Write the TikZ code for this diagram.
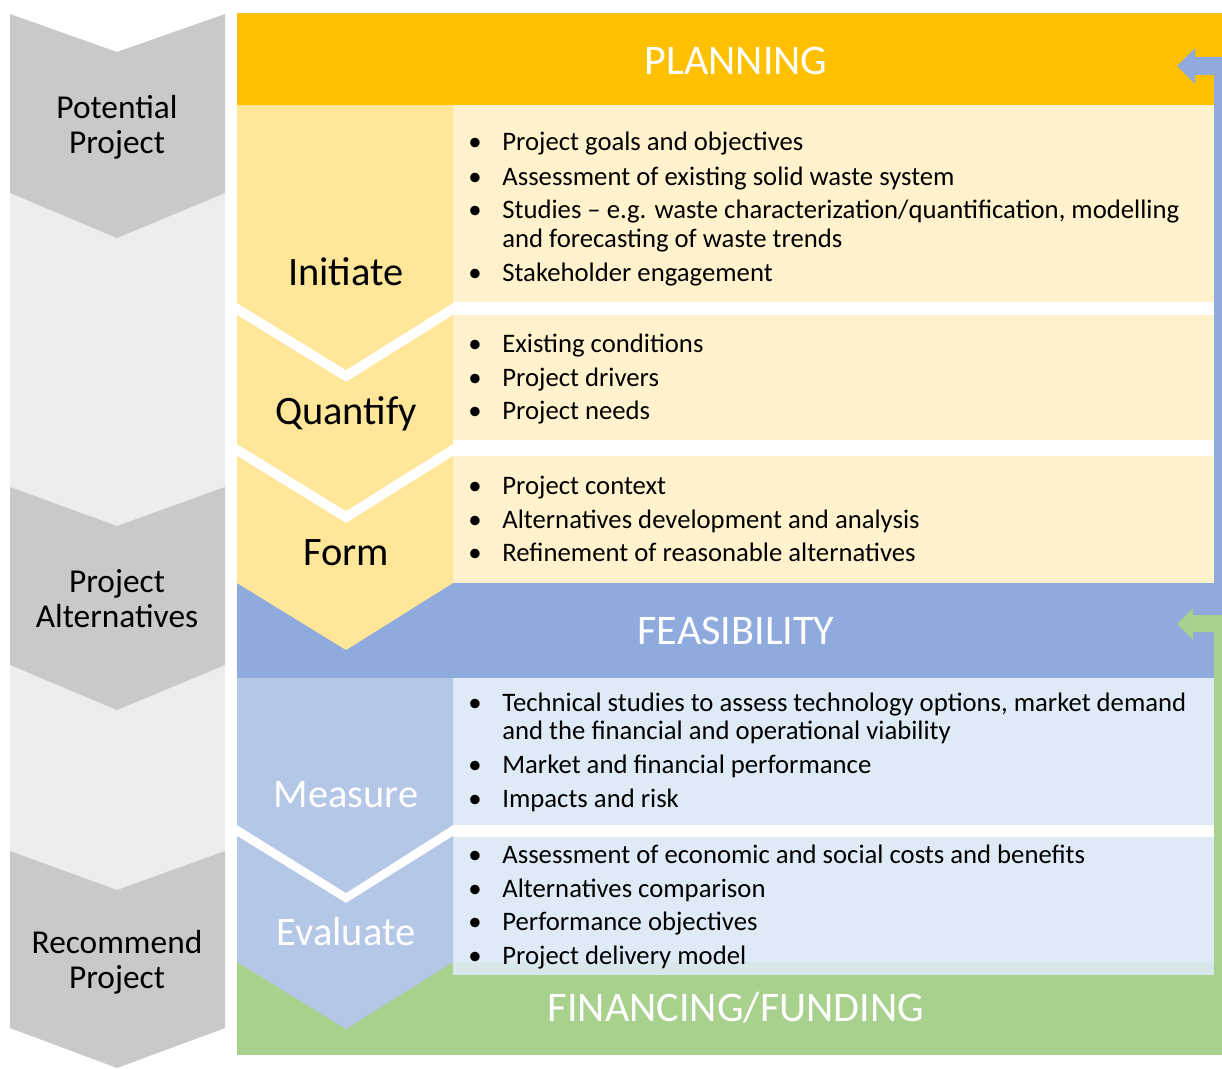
\documentclass[tikz,border=0pt]{standalone}
\usepackage{fontspec}
\setmainfont{Carlito}
\usepackage{tikz}
\usetikzlibrary{positioning}
\definecolor{planorange}{HTML}{FFC000}
\definecolor{planchev}{HTML}{FFE699}
\definecolor{planrow}{HTML}{FFF2CC}
\definecolor{feasblue}{HTML}{8FAADC}
\definecolor{feaschev}{HTML}{B4C7E7}
\definecolor{feasrow}{HTML}{DEEBF7}
\definecolor{fundgreen}{HTML}{A9D18E}
\definecolor{sidedark}{HTML}{C9C9C9}
\definecolor{sidelight}{HTML}{EDEDED}
\tikzset{
  head/.style={anchor=base, inner sep=0pt, text=white, font=\fontsize{24}{28}\selectfont},
  stage/.style={anchor=base, inner sep=0pt, font=\fontsize{23}{26}\selectfont},
  side/.style={align=center, inner sep=0pt, font=\fontsize{19}{20}\selectfont},
  item/.style={anchor=mid west, inner sep=0pt, font=\fontsize{15.2}{17}\selectfont},
  dot/.style={anchor=mid, inner sep=0pt, font=\fontsize{15.2}{17}\selectfont},
}
\begin{document}
\begin{tikzpicture}[x=0.02cm, y=-0.02cm]
\useasboundingbox (0,0) rectangle (1222,1068);
% left column
\fill[sidelight] (10,150) rectangle (225,1000);
\fill[sidedark] (10,14) -- (117,52) -- (225,14) -- (225,193) -- (117,238) -- (10,193) -- cycle;
\fill[sidedark] (10,487) -- (117,526) -- (225,487) -- (225,665) -- (117,710) -- (10,665) -- cycle;
\fill[sidedark] (10,851) -- (117,890) -- (225,851) -- (225,1028) -- (117,1068) -- (10,1028) -- cycle;
\node[side] (potential) at (117,127) {Potential\\Project};
\node[side] (alternatives) at (117,599) {Project\\Alternatives};
\node[side] (recommend) at (117,962) {Recommend\\Project};
%
% bands
\fill[planorange] (237,13) rectangle (1222,105);
\fill[feasblue] (237,583) rectangle (1222,678);
\fill[fundgreen] (237,962) rectangle (1222,1055);
% return arrows
\fill[feasblue] (1222,57) -- (1195,57) -- (1195,48) -- (1177,66) -- (1195,84) -- (1195,75) -- (1214,75) -- (1214,590) -- (1222,590) -- cycle;
\fill[fundgreen] (1222,615) -- (1193,615) -- (1193,608) -- (1177,624) -- (1193,640) -- (1193,632) -- (1214,632) -- (1214,965) -- (1222,965) -- cycle;
% rows
\fill[planrow] (453,105) rectangle (1214,302);
\fill[planrow] (453,315) rectangle (1214,440);
\fill[planrow] (453,456) rectangle (1214,583);
\fill[feasrow] (453,678) rectangle (1214,825);
\fill[feasrow] (453,837) rectangle (1214,975);
\fill[feasrow!88!fundgreen] (453,962) rectangle (1214,975);
% stage chevrons
\fill[planchev] (237,105) -- (453,105) -- (453,303) -- (346,370) -- (237,303) -- cycle;
\fill[planchev] (237,315) -- (346,382) -- (453,315) -- (453,444) -- (346,511) -- (237,444) -- cycle;
\fill[planchev] (237,456) -- (346,523) -- (453,456) -- (453,583) -- (346,650) -- (237,583) -- cycle;
\fill[feaschev] (237,678) -- (453,678) -- (453,825) -- (346,893) -- (237,825) -- cycle;
\fill[feaschev] (237,836) -- (346,903) -- (453,836) -- (453,962) -- (346,1029) -- (237,962) -- cycle;
%
\node[head] (planning) at (736,74) {PLANNING};
\node[head] (feasibility) at (736,644) {FEASIBILITY};
\node[head] (financing) at (736,1021) {FINANCING/FUNDING};
%
\node[stage] (initiate) at (346,285) {Initiate};
\node[stage] (quantify) at (346,424) {Quantify};
\node[stage] (form) at (346,565) {Form};
\node[stage, text=white] (measure) at (346,807) {Measure};
\node[stage, text=white] (evaluate) at (346,945) {Evaluate};
%
\node[dot] (d1) at (475,146) {•};
\node[item] (p1) at (502,146) {Project goals and objectives};
\node[dot] (d2) at (475,181) {•};
\node[item] (p2) at (502,181) {Assessment of existing solid waste system};
\node[dot] (d3) at (475,214) {•};
\node[item] (p3) at (502,214) {Studies – e.g. waste characterization/quantification, modelling};
\node[item] (p3b) at (502,243) {and forecasting of waste trends};
\node[dot] (d4) at (475,277) {•};
\node[item] (p4) at (502,277) {Stakeholder engagement};
%
\node[dot] (d5) at (475,348) {•};
\node[item] (q1) at (502,348) {Existing conditions};
\node[dot] (d6) at (475,382) {•};
\node[item] (q2) at (502,382) {Project drivers};
\node[dot] (d7) at (475,415) {•};
\node[item] (q3) at (502,415) {Project needs};
%
\node[dot] (d8) at (475,490) {•};
\node[item] (f1) at (502,490) {Project context};
\node[dot] (d9) at (475,524) {•};
\node[item] (f2) at (502,524) {Alternatives development and analysis};
\node[dot] (d10) at (475,557) {•};
\node[item] (f3) at (502,557) {Refinement of reasonable alternatives};
%
\node[dot] (d11) at (475,707) {•};
\node[item] (m1) at (502,707) {Technical studies to assess technology options, market demand};
\node[item] (m1b) at (502,735) {and the financial and operational viability};
\node[dot] (d12) at (475,769) {•};
\node[item] (m2) at (502,769) {Market and financial performance};
\node[dot] (d13) at (475,803) {•};
\node[item] (m3) at (502,803) {Impacts and risk};
%
\node[dot] (d14) at (475,859) {•};
\node[item] (e1) at (502,859) {Assessment of economic and social costs and benefits};
\node[dot] (d15) at (475,893) {•};
\node[item] (e2) at (502,893) {Alternatives comparison};
\node[dot] (d16) at (475,926) {•};
\node[item] (e3) at (502,926) {Performance objectives};
\node[dot] (d17) at (475,960) {•};
\node[item] (e4) at (502,960) {Project delivery model};
\end{tikzpicture}
\end{document}
